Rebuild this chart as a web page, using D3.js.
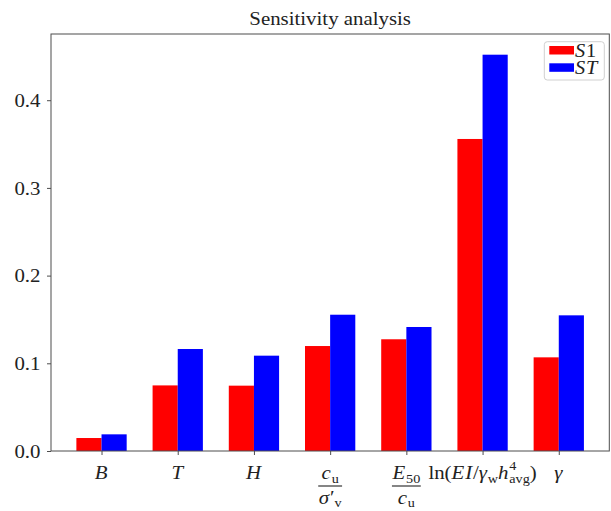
<!DOCTYPE html>
<html>
<head>
<meta charset="utf-8">
<script src="https://cdn.jsdelivr.net/npm/d3@7"></script>
<style>
  body { margin: 0; background: #fff; }
  svg { display: block; font-family: "Liberation Serif", "Times New Roman", "DejaVu Serif", serif; }
  svg text { font-family: "Liberation Serif", "Times New Roman", "DejaVu Serif", serif; }
</style>
</head>
<body>
<svg width="611" height="511"></svg>
<script>
// data
const categories = ["B", "T", "H", "c_u/σ′_v", "E_50/c_u", "ln(EI/γ_w h^4_avg)", "γ"];
const s1Values = [0.0148, 0.0748, 0.0745, 0.1197, 0.1274, 0.3558, 0.1068];
const stValues = [0.0190, 0.1163, 0.1087, 0.1554, 0.1414, 0.4519, 0.1547];
const yTicks = [0.0, 0.1, 0.2, 0.3, 0.4];
const seriesNames = ["S1", "ST"];
const seriesColors = ["#ff0000", "#0000ff"];

// layout
const plotLeft = 51, plotRight = 609.3, plotTop = 34, plotBottom = 451;
const stretch = 1.07;   // the picture is a little wider than tall
const barW = 0.33;
const axisColor = "#4d4d4d";
const textColor = "#222";
const serif = '"Liberation Serif", "Times New Roman", serif';

const svg = d3.select("svg");

const x = d3.scaleLinear()
  .domain([-0.663, categories.length - 1 + 0.663])
  .range([plotLeft, plotRight]);
const y = d3.scaleLinear()
  .domain([0, 0.4755])
  .range([plotBottom, plotTop]);

// bars
const series = [s1Values, stValues];
series.forEach((vals, s) => {
  svg.append("g")
    .selectAll("rect")
    .data(vals)
    .enter()
    .append("rect")
    .attr("x", (d, i) => x(i - barW + s * barW))
    .attr("y", d => y(d))
    .attr("width", x(barW) - x(0))
    .attr("height", d => y(0) - y(d))
    .attr("fill", seriesColors[s]);
});

// y axis
const yAxis = svg.append("g")
  .attr("transform", `translate(${plotLeft},0)`)
  .call(d3.axisLeft(y).tickValues(yTicks).tickSize(4).tickPadding(6).tickFormat(d3.format(".1f")))
  .attr("font-family", serif)
  .attr("font-size", 19.5);
yAxis.select(".domain").remove();
yAxis.selectAll("line").attr("stroke", axisColor);
yAxis.selectAll("text")
  .attr("font-family", serif)
  .attr("fill", textColor)
  .attr("x", -10.5 / stretch)
  .attr("transform", `scale(${stretch},1)`);

// x axis (labels drawn below)
const xAxis = svg.append("g")
  .attr("transform", `translate(0,${plotBottom})`)
  .call(d3.axisBottom(x).tickValues(d3.range(categories.length)).tickSize(4).tickFormat(""));
xAxis.select(".domain").remove();
xAxis.selectAll("line").attr("stroke", axisColor);

// frame
svg.append("rect")
  .attr("x", plotLeft).attr("y", plotTop)
  .attr("width", plotRight - plotLeft).attr("height", plotBottom - plotTop)
  .attr("fill", "none")
  .attr("stroke", axisColor)
  .attr("stroke-width", 1);

// tiny math-text parser: letters italic, scripts and digits upright
function parseMath(str) {
  const pieces = [];
  let i = 0;
  while (i < str.length) {
    const c = str[i];
    if (c === "_" || c === "^") {
      let k = i + 1;
      while (k < str.length && /[A-Za-z0-9]/.test(str[k])) k++;
      const prev = pieces[pieces.length - 1];
      pieces.push({ text: str.slice(i + 1, k), italic: false, level: c === "_" ? -1 : 1, stack: !!(prev && prev.level !== 0) });
      i = k;
      continue;
    }
    if (str.startsWith("ln", i)) { pieces.push({ text: "ln", italic: false, level: 0 }); i += 2; continue; }
    if (c === " ") { i++; continue; }
    pieces.push({ text: c, italic: /[A-Za-zα-ω]/.test(c), level: 0 });
    i++;
  }
  return pieces;
}

// lays pieces out left to right, returns width
function drawMath(g, str, size) {
  const pieces = parseMath(str);
  let cursor = 0, lastStart = 0;
  pieces.forEach(p => {
    const fs = p.level === 0 ? size : size * 0.68;
    const dy = p.level === -1 ? size * 0.2 : p.level === 1 ? -size * 0.44 : 0;
    const x0 = p.stack ? lastStart : cursor;
    const t = g.append("text")
      .attr("x", x0)
      .attr("y", dy)
      .attr("font-size", fs)
      .attr("font-family", serif)
      .attr("font-style", p.italic ? "italic" : "normal")
      .attr("fill", textColor)
      .text(p.text);
    // small italic correction so slanted glyphs do not run into the next one
    const w = t.node().getComputedTextLength() + (p.italic ? size * 0.04 : 0);
    lastStart = x0;
    cursor = p.stack ? Math.max(cursor, x0 + w) : x0 + w;
  });
  return cursor;
}

function centeredMath(parent, str, size) {
  const g = parent.append("g");
  const w = drawMath(g, str, size);
  g.attr("transform", `translate(${-w / 2},0)`);
  return w;
}

// x tick labels
const labelSize = 19.5;
const labelBase = 479;
categories.forEach((c, i) => {
  const g = svg.append("g")
    .attr("transform", `translate(${x(i)},${labelBase}) scale(${stretch},1)`);
  if (c.includes("/") && !c.startsWith("ln(")) {
    const [num, den] = c.split("/");
    const w1 = centeredMath(g, num, labelSize);
    const g2 = g.append("g").attr("transform", "translate(0,24.5)");
    const w2 = centeredMath(g2, den, labelSize);
    const lw = Math.max(w1, w2) + 1;
    g.append("line")
      .attr("x1", -lw / 2).attr("x2", lw / 2)
      .attr("y1", 7).attr("y2", 7)
      .attr("stroke", textColor)
      .attr("stroke-width", 1.1);
  } else {
    centeredMath(g, c, labelSize);
  }
});

// title
svg.append("text")
  .attr("transform", `translate(${(plotLeft + plotRight) / 2},25) scale(${stretch},1)`)
  .attr("text-anchor", "middle")
  .attr("font-size", 19.5)
  .attr("font-family", serif)
  .attr("fill", textColor)
  .text("Sensitivity analysis");

// legend
const legend = svg.append("g");
legend.append("rect")
  .attr("x", 544.3).attr("y", 41.7)
  .attr("width", 60).attr("height", 38.3)
  .attr("rx", 3)
  .attr("fill", "#fff")
  .attr("stroke", "#d0d0d0");
seriesNames.forEach((name, s) => {
  legend.append("rect")
    .attr("x", 549.3).attr("y", 46 + s * 17.3)
    .attr("width", 24.7).attr("height", 8.5)
    .attr("fill", seriesColors[s]);
  const g = legend.append("g")
    .attr("transform", `translate(575,${56.7 + s * 17.3}) scale(${stretch},1)`);
  drawMath(g, name, 19);
});
</script>
</body>
</html>
